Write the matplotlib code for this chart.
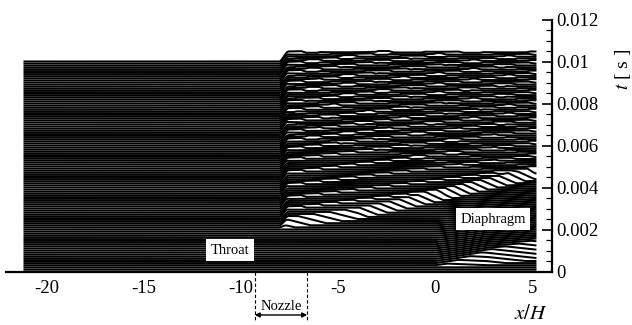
import numpy as np
import matplotlib.pyplot as plt

plt.rcParams["font.family"] = ["Liberation Serif", "DejaVu Serif"]
plt.rcParams["mathtext.fontset"] = "stix"
plt.rcParams["axes.unicode_minus"] = False

# --- traces (one line per sampled time) ---
X_START, X_END, N_X = -21.2, 5.2, 1200
T_FIRST, T_LAST, N_TRACES = 0.0, 0.010, 101

# nozzle exit: downstream signal switches on across this x range
EXIT_X0, EXIT_X1 = -8.05, -7.55

# lower band: wave from the diaphragm burst (band edges)
BURST_X = [0.0, 2.6, 5.2]
BURST_LO = [0.00020, 0.00030, 0.00056]
BURST_HI = [0.00020, 0.00100, 0.00152]

# upper band: flow front leaving the nozzle
FRONT_X = [-7.9, -7.64, -4.0, -1.8, -0.5, 2.0, 5.2]
FRONT_T = [0.00200, 0.00205, 0.00250, 0.00293, 0.00320, 0.00375, 0.00442]
FRONT_RISE = 0.00034       # level gained behind the front
FRONT_TAU = 0.00018        # time over which it is gained
LATE_LEVEL = 0.00040       # level reached at t = 0.01

# pressure pulses shed at the nozzle exit (times of the white hooks)
PULSE_T = [0.0026, 0.0031, 0.0037, 0.0043, 0.0049, 0.0054, 0.0058, 0.0062,
           0.0067, 0.0072, 0.0076, 0.0081, 0.0085, 0.0090, 0.0094, 0.0099]
PULSE_AMP = 0.00010
PULSE_DECAY = 0.00020
PULSE_SPEED = 9000.0       # x/H per second, moving right
REFL_AMP = 0.00004
REFL_SPEED = 6000.0        # moving left after the end wall

# axis ticks
X_TICKS = [-20, -15, -10, -5, 0, 5]
X_TICKLABELS = ["-20", "-15", "-10", "-5", "0", "5"]
Y_TICKS = [0, 0.002, 0.004, 0.006, 0.008, 0.010, 0.012]
Y_TICKLABELS = ["0", "0.002", "0.004", "0.006", "0.008", "0.01", "0.012"]

NOZZLE_X = (-9.3, -6.6)


def smoothstep(x, a, b):
    s = np.clip((x - a) / (b - a), 0, 1)
    return s * s * (3 - 2 * s)


def pulse(s, amp):
    rise = np.clip(s / 0.00003, 0, 1)
    return np.where(s >= 0, amp * rise * np.exp(-np.clip(s, 0, None) / PULSE_DECAY), 0.0)


def signal(x, t):
    q = np.zeros_like(x)

    # burst wave, right of the diaphragm
    lo = np.interp(x, BURST_X, BURST_LO)
    hi = np.interp(x, BURST_X, BURST_HI)
    h1 = 0.5 * (hi - lo)
    tau1 = np.maximum(0.5 * (hi - lo), 1e-9)
    tf = np.interp(x, FRONT_X, FRONT_T)
    up = np.clip((t - lo) / tau1, 0, 1)
    down = np.clip((tf - t) / np.maximum(tf - lo - tau1, 1e-9), 0, 1)
    burst = h1 * np.where(t < lo + tau1, up, down)
    q += np.where(x > 0, burst, 0.0)

    # flow front + pulses downstream of the nozzle exit
    gate = smoothstep(x, EXIT_X0, EXIT_X1)
    on = np.clip((t - tf) / FRONT_TAU, 0, 1)
    level = FRONT_RISE + (LATE_LEVEL - FRONT_RISE) * np.clip((t - tf) / (T_LAST - tf), 0, 1)
    waves = np.zeros_like(x)
    x_exit = EXIT_X1
    decay_x = np.exp(-(x - x_exit) / 25.0)
    for tk in PULSE_T:
        s = t - tk - (x - x_exit) / PULSE_SPEED
        waves += pulse(s, PULSE_AMP) * decay_x
        t_wall = tk + (X_END - x_exit) / PULSE_SPEED
        s_r = t - t_wall - (X_END - x) / REFL_SPEED
        waves += pulse(s_r, REFL_AMP)
    q += gate * on * (level + waves)
    return q


x = np.linspace(X_START, X_END, N_X)
times = np.linspace(T_FIRST, T_LAST, N_TRACES)

fig = plt.figure(figsize=(6.32, 3.25), dpi=100)
ax = fig.add_axes([0.0095, 0.1646, 0.8639, 0.7754])

for t in times[::-1]:
    ax.plot(x, t + signal(x, t), color="black", lw=1.45, solid_capstyle="butt")

ax.set_xlim(-22.1, 6.0)
ax.set_ylim(0, 0.012)

for side in ("left", "top"):
    ax.spines[side].set_visible(False)
for side in ("bottom", "right"):
    ax.spines[side].set_linewidth(1.6)

ax.set_xticks(X_TICKS)
ax.set_xticklabels(X_TICKLABELS, fontsize=13.5)
ax.tick_params(axis="x", length=0, pad=6)

ax.yaxis.tick_right()
ax.set_yticks(Y_TICKS)
ax.set_yticklabels(Y_TICKLABELS, fontsize=13.5)
ax.set_yticks(np.arange(0, 0.0121, 0.0005), minor=True)
ax.tick_params(axis="y", which="major", direction="in", length=7, width=1.2, pad=3)
ax.tick_params(axis="y", which="minor", direction="in", length=4, width=0.9)

ax.text(1.13, 0.80, r"$t$ [ s ]", transform=ax.transAxes, rotation=90,
        fontsize=14, ha="center", va="center")
ax.text(4.9, -0.00207, r"$x/H$", fontsize=15, ha="center", va="center")

box = dict(boxstyle="square,pad=0.3", fc="white", ec="none")
ax.text(-10.57, 0.00102, "Throat", fontsize=10.5, ha="center", va="center",
        bbox=box, zorder=5)
ax.text(2.96, 0.0025, "Diaphragm", fontsize=10.5, ha="center", va="center",
        bbox=box, zorder=5)

# nozzle extent below the axis
for xn in NOZZLE_X:
    ax.plot([xn, xn], [0, -0.0023], ls=(0, (3, 2)), color="black", lw=0.8,
            clip_on=False)
ax.annotate("", xy=(NOZZLE_X[0], -0.00207), xytext=(NOZZLE_X[1], -0.00207),
            arrowprops=dict(arrowstyle="<|-|>", color="black", lw=1.0,
                            mutation_scale=7, shrinkA=0, shrinkB=0),
            annotation_clip=False)
ax.text(np.mean(NOZZLE_X), -0.00165, "Nozzle", fontsize=10.5, ha="center",
        va="center")

fig.savefig("out.png", dpi=100)
